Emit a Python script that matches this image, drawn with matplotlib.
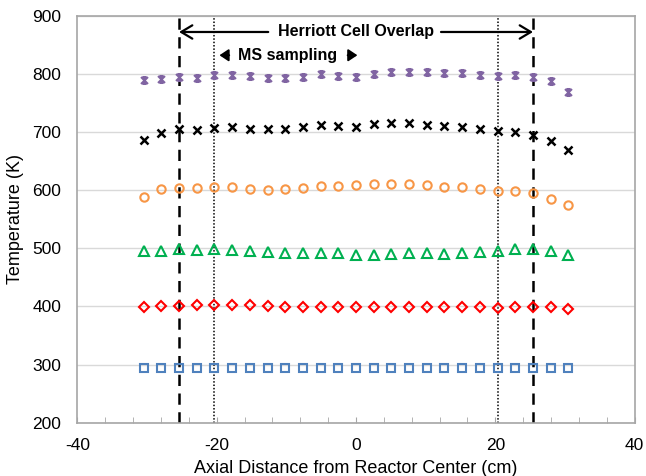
import matplotlib
matplotlib.use("Agg")
import matplotlib.pyplot as plt
from matplotlib.path import Path
from matplotlib.ticker import MultipleLocator

plt.rcParams['font.family'] = ['Liberation Sans', 'DejaVu Sans']
plt.rcParams['axes.unicode_minus'] = False

# axial positions (cm)
x_cm = [-30.48, -27.94, -25.40, -22.86, -20.32, -17.78, -15.24, -12.70, -10.16, -7.62,
        -5.08, -2.54, 0.00, 2.54, 5.08, 7.62, 10.16, 12.70, 15.24, 17.78,
        20.32, 22.86, 25.40, 27.94, 30.48]

t300 = [294, 294, 294, 294, 294, 294, 294, 294, 294, 294, 294, 294, 294,
        294, 294, 294, 294, 294, 294, 294, 294, 294, 294, 294, 294]
t400 = [399.5, 400.7, 400.7, 401.9, 401.9, 403, 401.9, 400.7, 399.5, 399.5, 399.5, 399.5, 399.5,
        399.5, 399.5, 399.5, 398.4, 398.4, 398.4, 398.4, 397.2, 398.4, 399.5, 399.5, 396]
t500 = [496, 496, 498, 497, 498, 497, 496, 493.6, 491.4, 491.4, 491.4, 491.4, 489,
        489, 490, 491.4, 491.4, 490, 492.5, 493.6, 494.8, 498, 498, 496, 489]
t600 = [588.7, 602.4, 603.6, 603.6, 605.9, 605.9, 602.4, 600.2, 601.4, 603.6, 607, 607, 608,
        610.5, 610.5, 610.5, 608, 605.9, 604.7, 601.4, 599, 598, 594.5, 584, 574]
t700 = [686, 699, 704.6, 703.4, 706, 708, 705.7, 704.6, 705.7, 708, 711.5, 710, 709,
        713.8, 715, 715, 712.6, 710, 708, 704.6, 701, 700, 695, 684, 669]
t800 = [789, 791.6, 794, 792.8, 797.4, 798.5, 796, 793, 793, 795, 799.7, 796, 794,
        799.7, 803, 803, 803, 802, 802, 798.5, 796, 798.5, 795, 787, 768.7]

herriott_edges = [-25.4, 25.4]
ms_edges = [-20.32, 20.32]

fig = plt.figure(figsize=(6.46, 4.76), dpi=100)
ax = fig.add_axes([0.1197, 0.112, 0.8628, 0.855])

star = Path([(-1, -1), (1, 1), (-1, 1), (1, -1), (0, -1), (0, 1),
             (-0.6, 1), (0.6, 1), (-0.6, -1), (0.6, -1)],
            [Path.MOVETO, Path.LINETO, Path.MOVETO, Path.LINETO, Path.MOVETO, Path.LINETO,
             Path.MOVETO, Path.LINETO, Path.MOVETO, Path.LINETO])

ax.plot(x_cm, t300, ls='none', marker='s', ms=5.6, mfc='none', mec='#4F81BD', mew=1.5, zorder=3)
ax.plot(x_cm, t400, ls='none', marker='D', ms=5.0, mfc='none', mec='#FF0000', mew=1.5, zorder=3)
ax.plot(x_cm, t500, ls='none', marker='^', ms=6.6, mfc='none', mec='#00B050', mew=1.5, zorder=3)
ax.plot(x_cm, t600, ls='none', marker='o', ms=6.0, mfc='none', mec='#F79646', mew=1.5, zorder=3)
ax.plot(x_cm, t700, ls='none', marker='x', ms=5.6, mfc='none', mec='#000000', mew=1.8, zorder=3)
ax.plot(x_cm, t800, ls='none', marker=star, ms=5.0, mfc='none', mec='#8064A2', mew=1.5, zorder=3)

for xv in herriott_edges:
    ax.axvline(xv, color='black', lw=1.8, ls=(0, (4.5, 3)), zorder=2)
for xv in ms_edges:
    ax.axvline(xv, color='black', lw=1.1, ls=(0, (1, 1.2)), zorder=2)

ax.set_xlim(-40, 40)
ax.set_ylim(200, 900)
ax.xaxis.set_major_locator(MultipleLocator(20))
ax.xaxis.set_minor_locator(MultipleLocator(4))
ax.yaxis.set_major_locator(MultipleLocator(100))
ax.grid(axis='y', color='#D9D9D9', lw=1.0, zorder=0)
ax.set_axisbelow(True)

for s in ax.spines.values():
    s.set_color('#A6A6A6')
    s.set_linewidth(1.2)

ax.tick_params(axis='x', which='both', direction='in', length=4.5, color='#A6A6A6',
               labelsize=12.5, pad=11, top=False)
ax.tick_params(axis='y', which='both', length=0, labelsize=12.5, pad=11.5)

ax.set_xlabel('Axial Distance from Reactor Center (cm)', fontsize=13, labelpad=5)
ax.set_ylabel('Temperature (K)', fontsize=13, labelpad=6)

# Herriott cell overlap annotation
ax.text(0, 872, 'Herriott Cell Overlap', ha='center', va='center', fontsize=11.5,
        fontweight='bold', zorder=4)
ax.annotate('', xy=(herriott_edges[0], 872), xytext=(-12.6, 872),
            arrowprops=dict(arrowstyle='->,head_length=0.5,head_width=0.3', lw=1.6,
                            color='black', mutation_scale=16, shrinkA=0, shrinkB=0))
ax.annotate('', xy=(herriott_edges[1], 872), xytext=(12.2, 872),
            arrowprops=dict(arrowstyle='->,head_length=0.5,head_width=0.3', lw=1.6,
                            color='black', mutation_scale=16, shrinkA=0, shrinkB=0))

# MS sampling annotation
ax.text(-9.8, 832, 'MS sampling', ha='center', va='center', fontsize=11.5,
        fontweight='bold', zorder=4)
ax.annotate('', xy=(-19.6, 832), xytext=(-18.2, 832),
            arrowprops=dict(arrowstyle='-|>,head_length=0.6,head_width=0.4', lw=1.4,
                            color='black', mutation_scale=9, shrinkA=0, shrinkB=0))
ax.annotate('', xy=(0.2, 832), xytext=(-1.2, 832),
            arrowprops=dict(arrowstyle='-|>,head_length=0.6,head_width=0.4', lw=1.4,
                            color='black', mutation_scale=9, shrinkA=0, shrinkB=0))

fig.savefig('out.png', dpi=100)
